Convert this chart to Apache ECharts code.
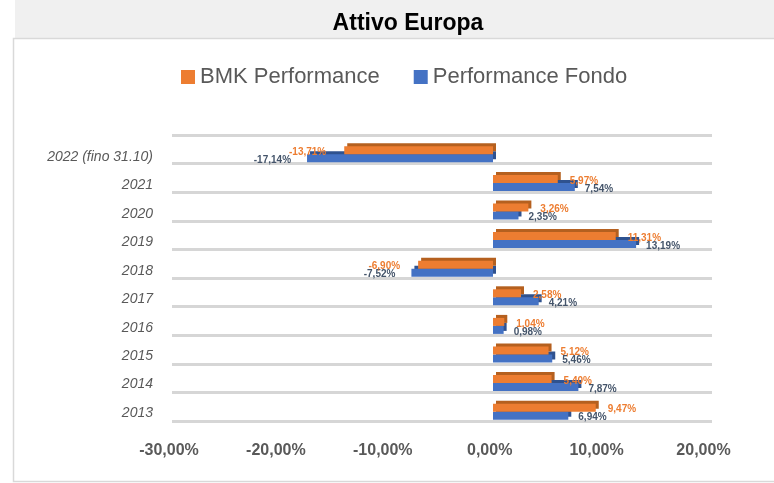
<!DOCTYPE html>
<html>
<head>
<meta charset="utf-8">
<script src="https://cdn.jsdelivr.net/npm/echarts@6/dist/echarts.min.js"></script>
<style>
  html, body { margin: 0; padding: 0; background: #fff; }
  #chart { width: 774px; height: 483px; }
</style>
</head>
<body>
<div id="chart"></div>
<script>
// anni (dal basso verso l'alto)
var years = ['2013', '2014', '2015', '2016', '2017', '2018', '2019', '2020', '2021', '2022 (fino 31.10)'];
var bmkPerf = [9.47, 5.40, 5.12, 1.04, 2.58, -6.90, 11.31, 3.26, 5.97, -13.71];
var fondoPerf = [6.94, 7.87, 5.46, 0.98, 4.21, -7.52, 13.19, 2.35, 7.54, -17.14];
var xTicks = [-30, -20, -10, 0, 10, 20];

var fmt = function (v) {
  return v.toFixed(2).replace('.', ',') + '%';
};

// etichette a destra per i positivi, a sinistra per i negativi
function barData(vals, distPos, distNeg) {
  return vals.map(function (v) {
    return {
      value: v,
      label: { position: v < 0 ? 'left' : 'right', distance: v < 0 ? distNeg : distPos }
    };
  });
}

var chart = echarts.init(document.getElementById('chart'));
var font = '"Liberation Sans", Arial, sans-serif';

var option = {
  animation: false,
  textStyle: { fontFamily: font },
  title: {
    text: 'Attivo Europa',
    left: 403,
    top: 7,
    textAlign: 'center',
    textStyle: { fontSize: 23, fontWeight: 'bold', color: '#000', fontFamily: font }
  },
  legend: {
    data: ['BMK Performance', 'Performance Fondo'],
    left: 181,
    top: 66,
    padding: 0,
    icon: 'rect',
    itemWidth: 14,
    itemHeight: 14,
    itemGap: 34,
    textStyle: { fontSize: 22, color: '#595959', fontFamily: font }
  },
  graphic: [
    { type: 'rect', z: -10, shape: { x: 15, y: 0, width: 759, height: 38 }, style: { fill: '#f0f0f0' } },
    { type: 'rect', z: -10, shape: { x: 13.5, y: 38.5, width: 800, height: 443 }, style: { fill: '#fff', stroke: '#d9d9d9', lineWidth: 1.5 } }
  ],
  grid: [
    // linee di sfondo
    { left: 172, right: 62, top: 135, height: 286 },
    // barre
    { left: 167.5, right: 64, top: 140, height: 286 },
    // etichette assi
    { left: 169, right: 70.5, top: 142.8, height: 284.4 }
  ],
  xAxis: [
    { gridIndex: 0, type: 'value', min: xTicks[0], max: xTicks[xTicks.length - 1], show: false },
    { gridIndex: 1, type: 'value', min: xTicks[0], max: xTicks[xTicks.length - 1], show: false },
    {
      gridIndex: 2, type: 'value', min: xTicks[0], max: xTicks[xTicks.length - 1], interval: 10,
      axisLine: { show: false }, axisTick: { show: false }, splitLine: { show: false },
      axisLabel: {
        margin: 15, fontSize: 16, fontWeight: 'bold', color: '#595959', fontFamily: font,
        formatter: function (v) { return fmt(v); }
      }
    }
  ],
  yAxis: [
    {
      gridIndex: 0, type: 'category', data: years,
      axisLine: { show: false }, axisTick: { show: false }, axisLabel: { show: false },
      splitLine: { show: true, lineStyle: { color: '#d6d6d6', width: 3 } }
    },
    {
      gridIndex: 1, type: 'category', data: years,
      axisLine: { show: false }, axisTick: { show: false }, axisLabel: { show: false },
      splitLine: { show: false }
    },
    {
      gridIndex: 2, type: 'category', data: years,
      axisLine: { show: false }, axisTick: { show: false }, splitLine: { show: false },
      axisLabel: { margin: 16, fontSize: 14, fontStyle: 'italic', color: '#595959', fontFamily: font }
    }
  ],
  series: [
    {
      name: 'BMK Performance',
      type: 'bar',
      xAxisIndex: 1,
      yAxisIndex: 1,
      barWidth: 8,
      barGap: '0%',
      z: 3,
      data: barData(bmkPerf, 12, 18),
      itemStyle: {
        color: '#ED7D31',
        shadowColor: '#B5601F',
        shadowBlur: 0,
        shadowOffsetX: 3,
        shadowOffsetY: -3
      },
      label: {
        show: true,
        offset: [0, 2],
        fontSize: 10,
        fontWeight: 'bold',
        color: '#ED7D31',
        fontFamily: font,
        formatter: function (p) { return fmt(p.value); }
      }
    },
    {
      name: 'Performance Fondo',
      type: 'bar',
      xAxisIndex: 1,
      yAxisIndex: 1,
      barWidth: 8,
      barGap: '0%',
      z: 2,
      data: barData(fondoPerf, 10, 16),
      itemStyle: {
        color: '#4472C4',
        shadowColor: '#2F528F',
        shadowBlur: 0,
        shadowOffsetX: 3,
        shadowOffsetY: -3
      },
      label: {
        show: true,
        offset: [0, 2],
        fontSize: 10,
        fontWeight: 'bold',
        color: '#44546A',
        fontFamily: font,
        formatter: function (p) { return fmt(p.value); }
      }
    }
  ]
};

chart.setOption(option);
</script>
</body>
</html>
